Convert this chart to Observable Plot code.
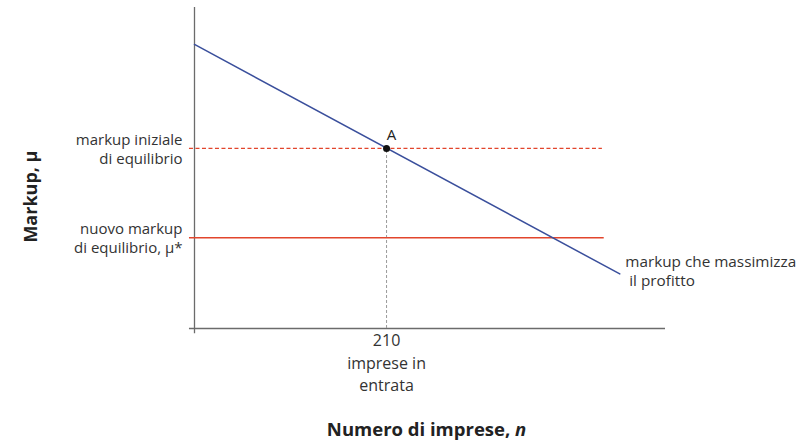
<!DOCTYPE html>
<html>
<head>
<meta charset="utf-8">
<script src="https://cdn.jsdelivr.net/npm/d3@7"></script>
<script src="https://cdn.jsdelivr.net/npm/@observablehq/plot@0.6"></script>
<style>
  html, body { margin: 0; padding: 0; background: #fff; }
  #chart svg { display: block; }
</style>
</head>
<body>
<div id="chart"></div>
<script>
// ---- data ----
const nDomain = [0, 515];
const muDomain = [0, 100];
const nEquilibrium = 210;
const muInitial = 56.1;
const muNew = 28.3;
const curveN = [0, 465];
const curveMu = [88.5, 17];
const dashedEndN = 446;
const solidEndN = 448;
const yTickLabels = ["markup iniziale\ndi equilibrio", "nuovo markup\ndi equilibrio, μ*"];
const yTickValues = [muInitial, muNew];
const xTickLabel = "210\nimprese in\nentrata";
const curveLabel = "markup che massimizza\n\u00a0il profitto";
const pointLabel = "A";
const yTitle = "Markup, μ";
const xTitleMain = "Numero di imprese, ";
const xTitleVar = "n";

const curve = curveN.map((n, i) => ({n, mu: curveMu[i]}));
const yTicks = yTickValues.map((v, i) => ({v, label: yTickLabels[i]}));

const blue = "#3a4f9c";
const red = "#e2452c";
const axisColor = "#6b6b6b";
const font = "'Open Sans', 'Noto Sans', sans-serif";

const chart = Plot.plot({
  width: 809,
  height: 444,
  marginLeft: 194,
  marginRight: 144,
  marginTop: 7,
  marginBottom: 116,
  style: {fontFamily: font, fontSize: "15px", color: "#333", background: "#fff"},
  x: {domain: nDomain, axis: null},
  y: {domain: muDomain, axis: null},
  marks: [
    // axes
    Plot.ruleX([0], {y1: muDomain[1], y2: -1.6, stroke: axisColor, strokeWidth: 1.3}),
    Plot.ruleY([0], {x1: -5.5, x2: nDomain[1], stroke: axisColor, strokeWidth: 1.3}),
    // vertical dashed guide
    Plot.ruleX([nEquilibrium], {y1: 0, y2: muInitial, stroke: "#9a9a9a", strokeWidth: 1, strokeDasharray: "3,2"}),
    // horizontal markup lines
    Plot.ruleY([muInitial], {x1: -5.5, x2: dashedEndN, stroke: red, strokeWidth: 1.1, strokeDasharray: "4,2.5"}),
    Plot.ruleY([muNew], {x1: -5.5, x2: solidEndN, stroke: red, strokeWidth: 1.5}),
    // profit maximizing markup curve
    Plot.line(curve, {x: "n", y: "mu", stroke: blue, strokeWidth: 1.5}),
    // equilibrium point
    Plot.dot([{n: nEquilibrium, mu: muInitial}], {x: "n", y: "mu", r: 3.5, fill: "#111", stroke: "none"}),
    Plot.text([pointLabel], {x: nEquilibrium, y: muInitial, dx: 5, dy: -13, fontSize: 15, fill: "#222"}),
    // y tick labels
    Plot.text(yTicks, {x: 0, y: "v", text: "label", dx: -12, textAnchor: "end", lineHeight: 1.25, fontSize: 15, fill: "#333"}),
    // x tick label
    Plot.text([xTickLabel], {x: nEquilibrium, y: 0, lineAnchor: "top", dy: 2, lineHeight: 1.4, fontSize: 16, fill: "#333"}),
    // curve label
    Plot.text([curveLabel], {x: curveN[1], y: curveMu[1], dx: 5.5, dy: -3.5, textAnchor: "start", lineHeight: 1.22, fontSize: 15.3, fill: "#333"}),
    // axis titles
    Plot.text([yTitle], {frameAnchor: "left", textAnchor: "middle", y: 41.1, dx: -163, rotate: -90, fontSize: 18, fontWeight: "bold", fill: "#222"}),
    Plot.text([xTitleMain + xTitleVar], {x: 253.7, y: 0, dy: 102, fontSize: 18.5, fontWeight: "bold", fill: "#222", className: "xtitle"})
  ]
});
document.getElementById("chart").appendChild(chart);
// italicize the variable name in the x axis title
d3.select(chart).selectAll(".xtitle text").each(function() {
  const t = d3.select(this);
  t.text(null);
  t.append("tspan").text(xTitleMain);
  t.append("tspan").attr("font-style", "italic").text(xTitleVar);
});
</script>
</body>
</html>
